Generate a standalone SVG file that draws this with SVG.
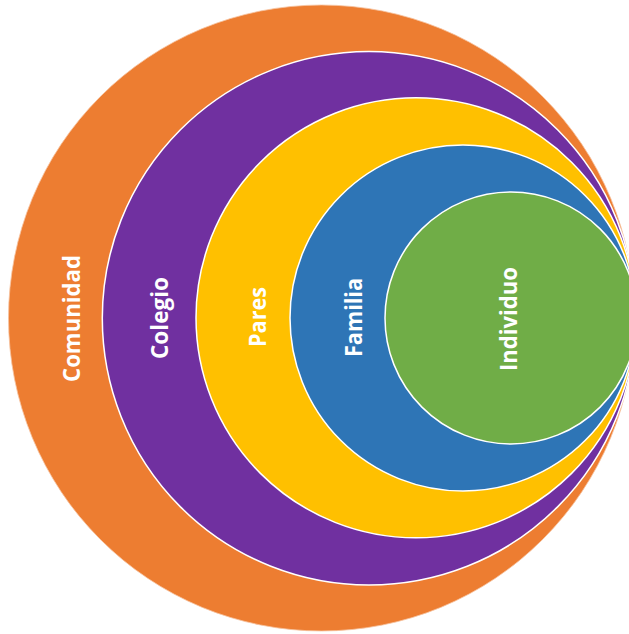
<svg xmlns="http://www.w3.org/2000/svg" width="629" height="634" viewBox="0 0 629 634">
<style>
.ring{stroke:#ffffff;stroke-width:1.5}
.lbl{font-family:"Open Sans","Liberation Sans",sans-serif;font-weight:bold;font-size:23px;fill:#ffffff;text-anchor:middle}
</style>
<rect width="629" height="634" fill="#ffffff"/>
<g id="comunidad">
<circle cx="321.5" cy="318" r="313" fill="#ED7D31" stroke="#f6c3a0" stroke-width="0.8"/>
<text class="lbl" transform="translate(80,318.5) rotate(-90)" textLength="127" lengthAdjust="spacingAndGlyphs">Comunidad</text>
</g>
<g id="colegio">
<circle class="ring" cx="369" cy="318.3" r="266.7" fill="#7030A0"/>
<text class="lbl" transform="translate(168,318) rotate(-90)" textLength="82" lengthAdjust="spacingAndGlyphs">Colegio</text>
</g>
<g id="pares">
<circle class="ring" cx="416" cy="317.8" r="220" fill="#FFC000"/>
<text class="lbl" transform="translate(266,317) rotate(-90)" textLength="60" lengthAdjust="spacingAndGlyphs">Pares</text>
</g>
<g id="familia">
<circle class="ring" cx="463" cy="318" r="173" fill="#2E75B6"/>
<text class="lbl" transform="translate(362,317.5) rotate(-90)" textLength="79" lengthAdjust="spacingAndGlyphs">Familia</text>
</g>
<g id="individuo">
<circle class="ring" cx="511" cy="318" r="126" fill="#70AD47"/>
<text class="lbl" transform="translate(517,319) rotate(-90)" textLength="104" lengthAdjust="spacingAndGlyphs">Individuo</text>
</g>
<g id="connectors"></g>
</svg>
